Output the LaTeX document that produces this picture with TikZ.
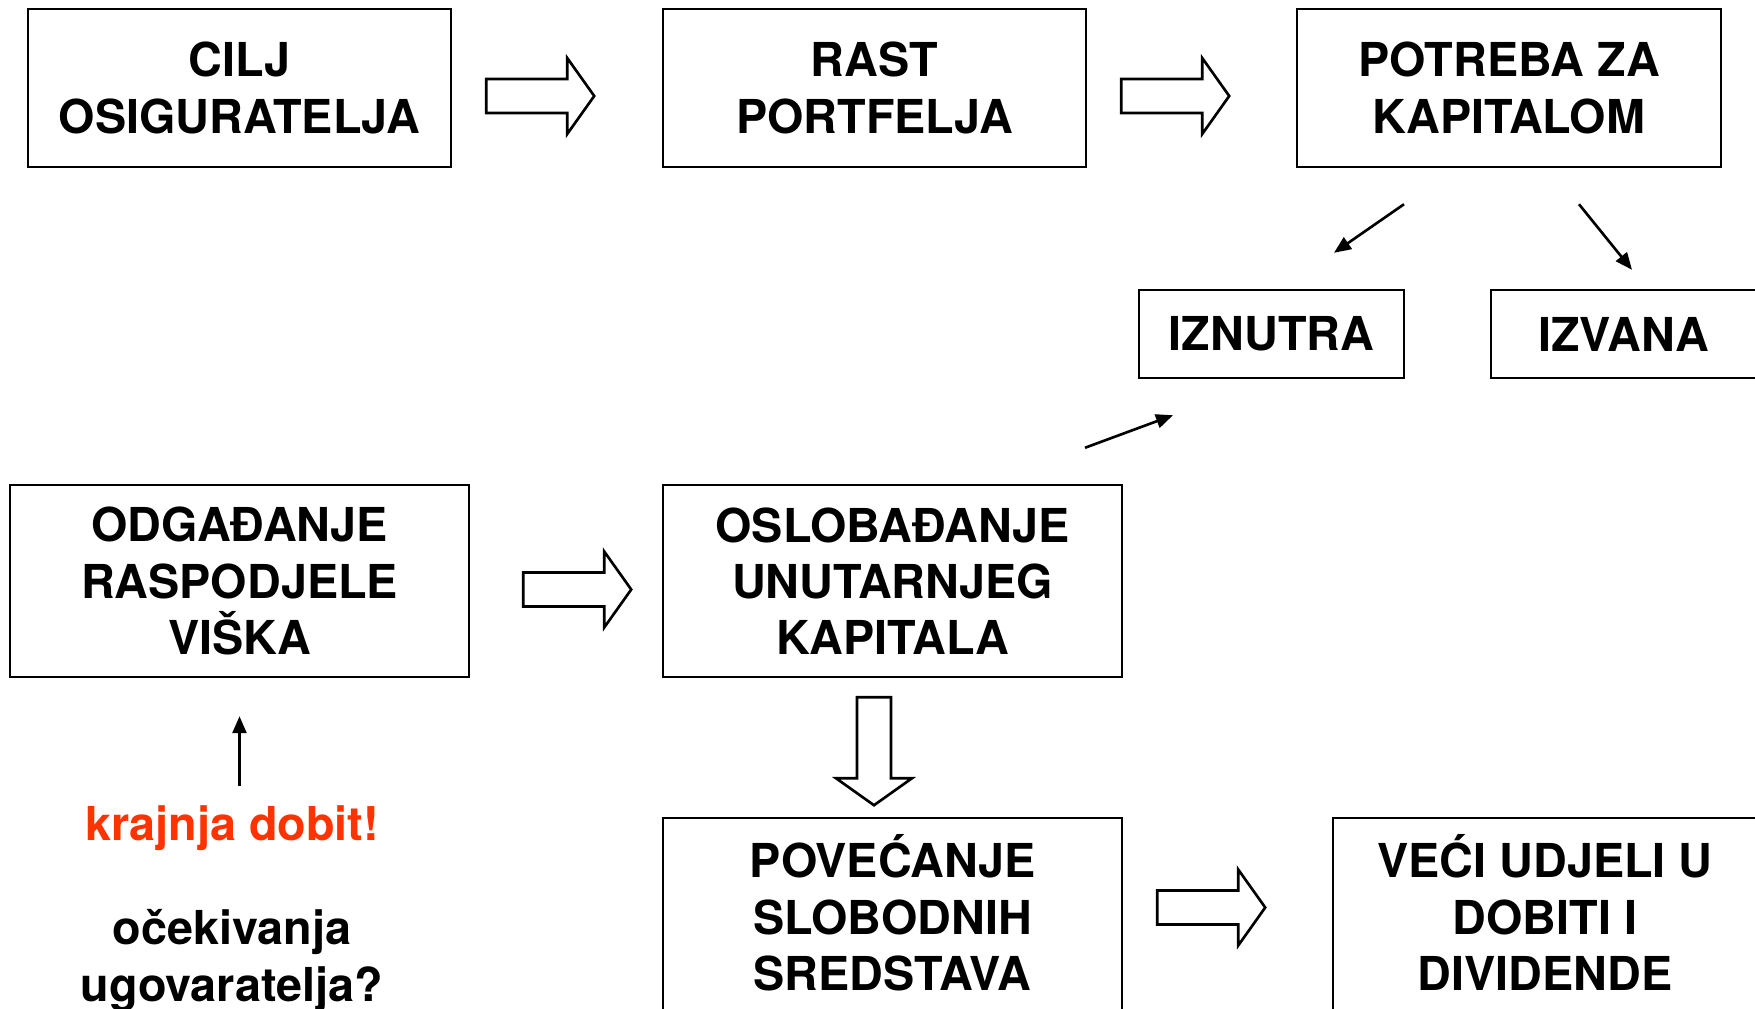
\documentclass[tikz,border=0pt]{standalone}
\usepackage{fontspec}
\setmainfont{TeX Gyre Heros}
\usetikzlibrary{arrows.meta,calc}
\definecolor{dobitred}{RGB}{255,51,0}

\begin{document}
\begin{tikzpicture}[x=0.1mm,y=-0.1mm]
    % Use bold sans-serif text, centred lines
    \tikzstyle{every node}=[font=\bfseries\fontsize{13.3pt}{16pt}\selectfont, align=center]
    \tikzstyle{box}=[draw, line width=0.7pt, inner sep=0pt]
    \tikzstyle{thinarrow}=[line width=0.75pt, -{Triangle[length=1.7mm,width=1.4mm]}]
    \tikzset{fatarrow/.pic={
        \draw[line width=0.75pt, fill=white] (0,-17) -- (81,-17) -- (81,-38) -- (108,0)
            -- (81,38) -- (81,17) -- (0,17) -- cycle;}}

    % Page size; boxes on the right and bottom run off the edge
    \useasboundingbox (0,0) rectangle (1755,1009);
    \clip (0,0) rectangle (1755,1009);

    % Top row
    \node[box, minimum width=42.3mm, minimum height=15.8mm] (cilj) at (239.5,88) {CILJ\\OSIGURATELJA};
    \node[box, minimum width=42.3mm, minimum height=15.8mm] (rast) at (874.5,88) {RAST\\PORTFELJA};
    \node[box, minimum width=42.4mm, minimum height=15.8mm] (potreba) at (1509,88) {POTREBA ZA\\KAPITALOM};

    % Sources of capital
    \node[box, minimum width=26.5mm, minimum height=8.8mm] (iznutra) at (1271.5,334) {IZNUTRA};
    \node[box, minimum width=26.5mm, minimum height=8.8mm] (izvana) at (1623.5,334) {IZVANA};

    % Middle row
    \node[box, minimum width=45.9mm, minimum height=19.2mm] (odgadanje) at (239.5,581) {ODGAĐANJE\\RASPODJELE\\VIŠKA};
    \node[box, minimum width=45.9mm, minimum height=19.2mm] (oslobadanje) at (892.5,581) {OSLOBAĐANJE\\UNUTARNJEG\\KAPITALA};

    % Bottom row (text sits a little high in these)
    \node[box, minimum width=45.9mm, minimum height=19.6mm, text depth=0.7mm] (povecanje) at (892.5,916) {POVEĆANJE\\SLOBODNIH\\SREDSTAVA};
    \node[box, minimum width=42.4mm, minimum height=19.6mm, text depth=0.7mm] (veci) at (1545,916) {VEĆI UDJELI U\\DOBITI I\\DIVIDENDE};

    % Notes under the left box
    \node[text=dobitred, inner sep=0pt, anchor=base] (dobit) at (232,840) {krajnja dobit!};
    \node[inner sep=0pt, anchor=north] (ocekivanja) at (232,909) {očekivanja\\ugovaratelja?};

    % Outlined block arrows
    \pic at ($(cilj.east)+(34,8)$) {fatarrow};
    \pic at ($(rast.east)+(34,8)$) {fatarrow};
    \pic at ($(odgadanje.east)+(53,8.5)$) {fatarrow};
    \pic at ($(povecanje.east)+(34,-8.5)$) {fatarrow};
    \pic[rotate=-90] at ($(oslobadanje.south)+(-18.5,19)$) {fatarrow};

    % Thin arrows
    \draw[thinarrow] ([xshift=-10.5mm,yshift=-3.6mm]potreba.south) -- ([xshift=6.25mm,yshift=3.6mm]iznutra.north);
    \draw[thinarrow] ([xshift=7mm,yshift=-3.6mm]potreba.south) -- ([xshift=0.85mm,yshift=1.9mm]izvana.north);
    \draw[thinarrow] ([xshift=19.25mm,yshift=3.6mm]oslobadanje.north) -- ([xshift=-9.85mm,yshift=-3.6mm]iznutra.south);
    \draw[thinarrow] ([yshift=-10.8mm]odgadanje.south) -- ([yshift=-3.8mm]odgadanje.south);

\end{tikzpicture}
\end{document}
